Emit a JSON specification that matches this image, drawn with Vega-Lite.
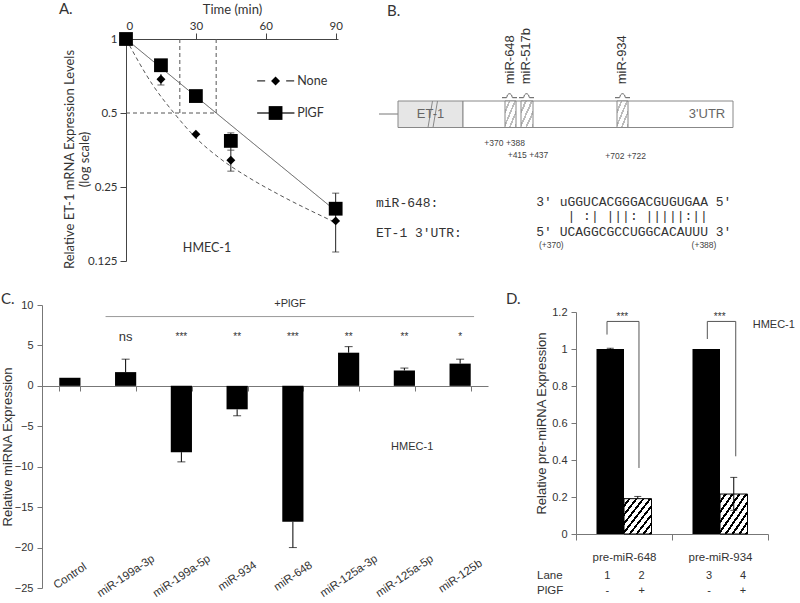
{
  "$schema": "https://vega.github.io/schema/vega-lite/v6.json",
  "padding": {"left": 1, "top": 2, "right": 0, "bottom": 0},
  "config": {"view": {"stroke": null}, "font": "Liberation Sans", "axis": {"grid": false, "titleFontWeight": "normal", "labelColor": "#333", "titleColor": "#333", "domainColor": "#666", "tickColor": "#666"}},
  "spacing": 22,
  "vconcat": [
    {
      "bounds": "flush",
      "spacing": 20,
      "hconcat": [
        {"width": 64, "height": 222, "data": {"values": [{"a": 0, "b": 1}]}, "mark": {"type": "rect", "opacity": 0},
         "encoding": {"x": {"field": "a", "type": "quantitative", "scale": {"domain": [0, 1]}, "axis": null}, "x2": {"field": "b"}, "y": {"field": "a", "type": "quantitative", "scale": {"domain": [0, 1]}, "axis": null}, "y2": {"field": "b"}}},
        {
          "width": 212, "height": 222,
          "layer": [
            {
              "data": {"values": [{"t": 0, "t2": 38.7, "v": 0.5, "v2": 0.5}, {"t": 23.1, "t2": 23.1, "v": 1, "v2": 0.5}, {"t": 38.7, "t2": 38.7, "v": 1, "v2": 0.5}]},
              "mark": {"type": "rule", "strokeDash": [4, 3], "color": "#555", "strokeWidth": 1},
              "encoding": {
                "x": {"field": "t", "type": "quantitative", "scale": {"domain": [0, 91], "nice": false, "zero": false},
                  "axis": {"orient": "top", "values": [0, 15, 30, 45, 60, 75, 90], "title": "Time (min)", "labelFont": "Lato", "titleFont": "Lato", "labelFontSize": 11.5, "titleFontSize": 13, "tickSize": 6, "labelPadding": 2, "titlePadding": 4, "domainColor": "#444", "tickColor": "#444"}},
                "x2": {"field": "t2"},
                "y": {"field": "v", "type": "quantitative", "scale": {"type": "log", "base": 2, "domain": [0.125, 1], "nice": false},
                  "axis": {"values": [0.125, 0.25, 0.5, 1], "format": "~g", "labelOverlap": false, "title": ["Relative ET-1 mRNA Expression Levels", "(log scale)"], "labelFont": "Lato", "titleFont": "Lato", "labelFontSize": 11.5, "titleFontSize": 13, "titleLineHeight": 15, "titleBaseline": "middle", "titleX": -57, "titleY": 120, "tickSize": 6, "labelPadding": 3, "domainColor": "#444", "tickColor": "#444"}},
                "y2": {"field": "v2"}
              }
            },
            {
              "data": {"values": [
                {"s": "None", "t": 0, "v": 1}, {"s": "None", "t": 11.3, "v": 0.654}, {"s": "None", "t": 20.6, "v": 0.5}, {"s": "None", "t": 29.9, "v": 0.397}, {"s": "None", "t": 39.9, "v": 0.329}, {"s": "None", "t": 52.7, "v": 0.273}, {"s": "None", "t": 65.6, "v": 0.233}, {"s": "None", "t": 88.4, "v": 0.182}, {"s": "None", "t": 90, "v": 0.179},
                {"s": "PlGF", "t": 0, "v": 1}, {"s": "PlGF", "t": 38.7, "v": 0.5}, {"s": "PlGF", "t": 90, "v": 0.2}
              ]},
              "mark": {"type": "line", "color": "#555", "strokeWidth": 1, "interpolate": "monotone"},
              "encoding": {
                "x": {"field": "t", "type": "quantitative", "scale": {"domain": [0, 91], "nice": false, "zero": false}},
                "y": {"field": "v", "type": "quantitative", "scale": {"type": "log", "base": 2, "domain": [0.125, 1], "nice": false}},
                "strokeDash": {"field": "s", "type": "nominal", "scale": {"domain": ["None", "PlGF"], "range": [[4, 3], [1, 0]]}, "legend": null}
              }
            },
            {
              "data": {"values": [
                {"t": 15, "v": 0.65, "v2": 0.72}, {"t": 45, "v": 0.29, "v2": 0.353}, {"t": 90, "v": 0.136, "v2": 0.2},
                {"t": 45, "v": 0.353, "v2": 0.415}, {"t": 90, "v": 0.204, "v2": 0.236}
              ]},
              "mark": {"type": "rule", "color": "#222", "strokeWidth": 1},
              "encoding": {
                "x": {"field": "t", "type": "quantitative", "scale": {"domain": [0, 91], "nice": false, "zero": false}},
                "y": {"field": "v", "type": "quantitative", "scale": {"type": "log", "base": 2, "domain": [0.125, 1], "nice": false}},
                "y2": {"field": "v2"}
              }
            },
            {
              "data": {"values": [{"t": 15, "v": 0.65}, {"t": 45, "v": 0.29}, {"t": 45, "v": 0.353}, {"t": 90, "v": 0.136}, {"t": 45, "v": 0.415}, {"t": 90, "v": 0.236}]},
              "mark": {"type": "tick", "color": "#222", "orient": "horizontal", "size": 7, "thickness": 1},
              "encoding": {
                "x": {"field": "t", "type": "quantitative", "scale": {"domain": [0, 91], "nice": false, "zero": false}},
                "y": {"field": "v", "type": "quantitative", "scale": {"type": "log", "base": 2, "domain": [0.125, 1], "nice": false}}
              }
            },
            {
              "data": {"values": [{"t": 56.3, "v": 0.675}, {"t": 72.3, "v": 0.675}]},
              "mark": {"type": "line", "color": "#333", "strokeWidth": 1.3, "strokeDash": [8, 21]},
              "encoding": {
                "x": {"field": "t", "type": "quantitative", "scale": {"domain": [0, 91], "nice": false, "zero": false}},
                "y": {"field": "v", "type": "quantitative", "scale": {"type": "log", "base": 2, "domain": [0.125, 1], "nice": false}}
              }
            },
            {
              "data": {"values": [{"t": 56.3, "v": 0.5}, {"t": 72.3, "v": 0.5}]},
              "mark": {"type": "line", "color": "#333", "strokeWidth": 1.3},
              "encoding": {
                "x": {"field": "t", "type": "quantitative", "scale": {"domain": [0, 91], "nice": false, "zero": false}},
                "y": {"field": "v", "type": "quantitative", "scale": {"type": "log", "base": 2, "domain": [0.125, 1], "nice": false}}
              }
            },
            {
              "data": {"values": [
                {"s": "None", "t": 0, "v": 1}, {"s": "None", "t": 15, "v": 0.686}, {"s": "None", "t": 30, "v": 0.41}, {"s": "None", "t": 45, "v": 0.321}, {"s": "None", "t": 90, "v": 0.182},
                {"s": "PlGF", "t": 0, "v": 1}, {"s": "PlGF", "t": 15, "v": 0.782}, {"s": "PlGF", "t": 30, "v": 0.586}, {"s": "PlGF", "t": 45, "v": 0.385}, {"s": "PlGF", "t": 90, "v": 0.204},
                {"s": "None", "t": 64.2, "v": 0.675}, {"s": "PlGF", "t": 64.2, "v": 0.5}
              ]},
              "mark": {"type": "point", "filled": true, "color": "black", "opacity": 1},
              "encoding": {
                "x": {"field": "t", "type": "quantitative", "scale": {"domain": [0, 91], "nice": false, "zero": false}},
                "y": {"field": "v", "type": "quantitative", "scale": {"type": "log", "base": 2, "domain": [0.125, 1], "nice": false}},
                "shape": {"field": "s", "type": "nominal", "scale": {"domain": ["None", "PlGF"], "range": ["diamond", "square"]}, "legend": null},
                "size": {"field": "s", "type": "nominal", "scale": {"domain": ["None", "PlGF"], "range": [80, 190]}, "legend": null}
              }
            },
            {
              "data": {"values": [{"t": 73.5, "v": 0.675, "label": "None"}, {"t": 73.5, "v": 0.5, "label": "PlGF"}, {"t": 24.4, "v": 0.1417, "label": "HMEC-1"}]},
              "mark": {"type": "text", "font": "Lato", "fontSize": 12.5, "color": "#333", "align": "left", "baseline": "middle"},
              "encoding": {
                "x": {"field": "t", "type": "quantitative", "scale": {"domain": [0, 91], "nice": false, "zero": false}},
                "y": {"field": "v", "type": "quantitative", "scale": {"type": "log", "base": 2, "domain": [0.125, 1], "nice": false}},
                "text": {"field": "label"},
                "align": {"condition": {"test": "datum.label === 'HMEC-1'", "value": "center"}, "value": "left"}
              }
            },
            {
              "data": {"values": [{"t": -28.8, "v": 1.324, "label": "A."}]},
              "mark": {"type": "text", "font": "Lato", "fontSize": 15, "color": "#333", "align": "left", "baseline": "middle"},
              "encoding": {
                "x": {"field": "t", "type": "quantitative", "scale": {"domain": [0, 91], "nice": false, "zero": false}},
                "y": {"field": "v", "type": "quantitative", "scale": {"type": "log", "base": 2, "domain": [0.125, 1], "nice": false}},
                "text": {"field": "label"}
              }
            }
          ]
        },
        {
          "width": 381, "height": 222,
          "encoding": {
            "x": {"field": "u", "type": "quantitative", "scale": {"domain": [0, 381], "nice": false, "zero": false}, "axis": null},
            "y": {"field": "w", "type": "quantitative", "scale": {"domain": [0, 222], "nice": false, "zero": false}, "axis": null}
          },
          "layer": [
            {
              "data": {"values": [{"u": 21, "u2": 40, "w": 147, "w2": 147}]},
              "mark": {"type": "rule", "color": "#777", "strokeWidth": 1},
              "encoding": {"x2": {"field": "u2"}, "y2": {"field": "w2"}}
            },
            {
              "data": {"values": [{"u": 40, "u2": 105, "w": 133.5, "w2": 160}]},
              "mark": {"type": "rect", "fill": "#e6e6e6", "stroke": "#888", "strokeWidth": 1},
              "encoding": {"x2": {"field": "u2"}, "y2": {"field": "w2"}}
            },
            {
              "data": {"values": [{"u": 105, "u2": 375, "w": 133.5, "w2": 160}]},
              "mark": {"type": "rect", "fill": "white", "stroke": "#888", "strokeWidth": 1},
              "encoding": {"x2": {"field": "u2"}, "y2": {"field": "w2"}}
            },
            {
              "data": {"values": [{"u": 147, "u2": 158, "w": 133.5, "w2": 160}, {"u": 163, "u2": 175, "w": 133.5, "w2": 160}, {"u": 259, "u2": 270, "w": 133.5, "w2": 160}]},
              "mark": {"type": "rect", "stroke": "#888", "strokeWidth": 1,
                "fill": {"gradient": "linear", "x1": 0, "y1": 0, "x2": 1, "y2": 1, "stops": [
                  {"offset": 0, "color": "white"}, {"offset": 0.17, "color": "white"}, {"offset": 0.17, "color": "#bbb"}, {"offset": 0.25, "color": "#bbb"},
                  {"offset": 0.25, "color": "white"}, {"offset": 0.42, "color": "white"}, {"offset": 0.42, "color": "#bbb"}, {"offset": 0.5, "color": "#bbb"},
                  {"offset": 0.5, "color": "white"}, {"offset": 0.67, "color": "white"}, {"offset": 0.67, "color": "#bbb"}, {"offset": 0.75, "color": "#bbb"},
                  {"offset": 0.75, "color": "white"}, {"offset": 0.92, "color": "white"}, {"offset": 0.92, "color": "#bbb"}, {"offset": 1, "color": "#bbb"}]}},
              "encoding": {"x2": {"field": "u2"}, "y2": {"field": "w2"}}
            },
            {
              "data": {"values": [{"u": 70, "u2": 74.5, "w": 133.5, "w2": 160}, {"u": 75, "u2": 79.5, "w": 133.5, "w2": 160}]},
              "mark": {"type": "rule", "color": "#888", "strokeWidth": 1},
              "encoding": {"x2": {"field": "u2"}, "y2": {"field": "w2"}}
            },
            {
              "data": {"values": [
                {"site": "a", "u": 144, "w": 163.3}, {"site": "a", "u": 148.5, "w": 163.3}, {"site": "a", "u": 149.5, "w": 166}, {"site": "a", "u": 151.5, "w": 167.3}, {"site": "a", "u": 153.5, "w": 166}, {"site": "a", "u": 154.5, "w": 163.3}, {"site": "a", "u": 159, "w": 163.3},
                {"site": "b", "u": 161, "w": 163.3}, {"site": "b", "u": 165.5, "w": 163.3}, {"site": "b", "u": 166.5, "w": 166}, {"site": "b", "u": 168.5, "w": 167.3}, {"site": "b", "u": 170.5, "w": 166}, {"site": "b", "u": 171.5, "w": 163.3}, {"site": "b", "u": 176, "w": 163.3},
                {"site": "c", "u": 257, "w": 163.3}, {"site": "c", "u": 261.5, "w": 163.3}, {"site": "c", "u": 262.5, "w": 166}, {"site": "c", "u": 264.5, "w": 167.3}, {"site": "c", "u": 266.5, "w": 166}, {"site": "c", "u": 267.5, "w": 163.3}, {"site": "c", "u": 272, "w": 163.3}
              ]},
              "mark": {"type": "line", "color": "#555", "strokeWidth": 1, "interpolate": "monotone"},
              "encoding": {"detail": {"field": "site", "type": "nominal"}}
            },
            {
              "data": {"values": [{"u": 151.7, "w": 176.7, "label": "miR-648"}, {"u": 167.7, "w": 176.7, "label": "miR-517b"}, {"u": 264.3, "w": 176.7, "label": "miR-934"}]},
              "mark": {"type": "text", "angle": 270, "align": "left", "baseline": "middle", "fontSize": 13, "color": "#333"},
              "encoding": {"text": {"field": "label"}}
            },
            {
              "data": {"values": [{"u": 72.5, "w": 147, "label": "ET-1"}, {"u": 349, "w": 147, "label": "3'UTR"}]},
              "mark": {"type": "text", "align": "center", "baseline": "middle", "fontSize": 13, "color": "#666"},
              "encoding": {"text": {"field": "label"}}
            },
            {
              "data": {"values": [{"u": 146.7, "w": 118.3, "label": "+370 +388"}, {"u": 170, "w": 106, "label": "+415 +437"}, {"u": 267.7, "w": 105, "label": "+702 +722"}, {"u": 193.3, "w": 16, "label": "(+370)"}, {"u": 346, "w": 16, "label": "(+388)"}]},
              "mark": {"type": "text", "align": "center", "baseline": "middle", "fontSize": 8.5, "color": "#444"},
              "encoding": {"text": {"field": "label"}}
            },
            {
              "data": {"values": [{"u": 18, "w": 58.3, "label": "miR-648:"}, {"u": 18, "w": 28.3, "label": "ET-1 3'UTR:"}, {"u": 178.3, "w": 59.3, "label": "3' uGGUCACGGGACGUGUGAA 5'"}, {"u": 178.3, "w": 29, "label": "5' UCAGGCGCCUGGCACAUUU 3'"}, {"u": 209.5, "w": 45, "label": "| :| |||: |||||:||"}]},
              "mark": {"type": "text", "align": "left", "baseline": "middle", "font": "Liberation Mono", "fontSize": 13, "color": "#333"},
              "encoding": {"text": {"field": "label"}}
            },
            {
              "data": {"values": [{"u": 29, "w": 250, "label": "B."}]},
              "mark": {"type": "text", "align": "left", "baseline": "middle", "font": "Lato", "fontSize": 15, "color": "#333"},
              "encoding": {"text": {"field": "label"}}
            }
          ]
        }
      ]
    },
    {
      "bounds": "flush",
      "spacing": 88,
      "hconcat": [
        {
          "width": 446, "height": 283,
          "resolve": {"scale": {"x": "independent"}},
          "layer": [
            {
              "encoding": {
                "x": {"field": "m", "type": "nominal", "scale": {"domain": ["Control", "miR-199a-3p", "miR-199a-5p", "miR-934", "miR-648", "miR-125a-3p", "miR-125a-5p", "miR-125b"], "paddingInner": 0.62, "paddingOuter": 0.31},
                  "axis": {"title": null, "offset": -202, "tickBand": "extent", "labelAngle": -34, "labelAlign": "center", "labelBaseline": "middle", "labelPadding": 185, "labelOverlap": false, "tickSize": 5, "labelFontSize": 11.5, "domainColor": "#777", "tickColor": "#777"}},
                "y": {"field": "v", "type": "quantitative", "scale": {"domain": [-25, 10], "nice": false, "zero": false},
                  "axis": {"values": [-25, -20, -15, -10, -5, 0, 5, 10], "labelOverlap": false, "title": "Relative miRNA Expression", "titleFontSize": 13, "titleBaseline": "middle", "titleX": -35, "labelFontSize": 11, "tickSize": 5, "labelPadding": 4, "domainColor": "#777", "tickColor": "#777"}}
              },
              "layer": [
                {
                  "data": {"values": [{"m": "Control", "v": 1}, {"m": "miR-199a-3p", "v": 1.7}, {"m": "miR-199a-5p", "v": -8.2}, {"m": "miR-934", "v": -2.9}, {"m": "miR-648", "v": -16.8}, {"m": "miR-125a-3p", "v": 4.1}, {"m": "miR-125a-5p", "v": 1.9}, {"m": "miR-125b", "v": 2.75}]},
                  "mark": {"type": "bar", "color": "black"}
                },
                {
                  "data": {"values": [{"m": "miR-199a-3p", "v": 1.7, "e": 3.3}, {"m": "miR-199a-5p", "v": -8.2, "e": -9.4}, {"m": "miR-934", "v": -2.9, "e": -3.7}, {"m": "miR-648", "v": -16.8, "e": -20.0}, {"m": "miR-125a-3p", "v": 4.1, "e": 4.85}, {"m": "miR-125a-5p", "v": 1.9, "e": 2.2}, {"m": "miR-125b", "v": 2.75, "e": 3.3}]},
                  "layer": [
                    {"mark": {"type": "rule", "color": "black"}, "encoding": {"y2": {"field": "e"}}},
                    {"mark": {"type": "tick", "color": "black", "orient": "horizontal", "size": 8, "thickness": 1}, "encoding": {"y": {"field": "e", "type": "quantitative", "scale": {"domain": [-25, 10], "nice": false, "zero": false}}}}
                  ]
                },
                {
                  "data": {"values": [{"m": "miR-199a-3p", "v": 6.1, "s": "ns"}, {"m": "miR-199a-5p", "v": 6.0, "s": "***"}, {"m": "miR-934", "v": 6.0, "s": "**"}, {"m": "miR-648", "v": 6.0, "s": "***"}, {"m": "miR-125a-3p", "v": 6.0, "s": "**"}, {"m": "miR-125a-5p", "v": 6.0, "s": "**"}, {"m": "miR-125b", "v": 6.0, "s": "*"}]},
                  "mark": {"type": "text", "align": "center", "baseline": "middle", "color": "#333"},
                  "encoding": {"text": {"field": "s"}, "size": {"condition": {"test": "datum.s === 'ns'", "value": 13}, "value": 10}}
                }
              ]
            },
            {
              "encoding": {
                "x": {"field": "p", "type": "quantitative", "scale": {"domain": [0, 8], "nice": false, "zero": false}, "axis": null},
                "y": {"field": "y", "type": "quantitative", "scale": {"domain": [-25, 10], "nice": false, "zero": false},
                  "axis": {"values": [-25, -20, -15, -10, -5, 0, 5, 10], "labelOverlap": false, "title": "Relative miRNA Expression", "titleFontSize": 13, "titleBaseline": "middle", "titleX": -35, "labelFontSize": 11, "tickSize": 5, "labelPadding": 4, "domainColor": "#777", "tickColor": "#777"}}
              },
              "layer": [
                {
                  "data": {"values": [{"p": 1.14, "p2": 7.75, "y": 8.57}]},
                  "mark": {"type": "rule", "color": "#999", "strokeWidth": 1},
                  "encoding": {"x2": {"field": "p2"}}
                },
                {
                  "data": {"values": [{"p": 4.45, "y": 10.14, "label": "+PlGF"}, {"p": 6.64, "y": -7.5, "label": "HMEC-1"}]},
                  "mark": {"type": "text", "align": "center", "baseline": "middle", "fontSize": 11, "color": "#333"},
                  "encoding": {"text": {"field": "label"}}
                },
                {
                  "data": {"values": [{"p": -0.735, "y": 10.76, "label": "C."}]},
                  "mark": {"type": "text", "align": "left", "baseline": "middle", "font": "Lato", "fontSize": 15, "color": "#333"},
                  "encoding": {"text": {"field": "label"}}
                }
              ]
            }
          ]
        },
        {
          "bounds": "flush",
          "spacing": 0,
          "vconcat": [
            {"width": 192, "height": 7, "data": {"values": [{"a": 0, "b": 1}]}, "mark": {"type": "rect", "opacity": 0},
             "encoding": {"x": {"field": "a", "type": "quantitative", "scale": {"domain": [0, 1]}, "axis": null}, "x2": {"field": "b"}, "y": {"field": "a", "type": "quantitative", "scale": {"domain": [0, 1]}, "axis": null}, "y2": {"field": "b"}}},
            {
              "width": 192, "height": 222,
              "resolve": {"scale": {"x": "independent"}},
              "layer": [
                {
                  "encoding": {
                    "x": {"field": "g", "type": "nominal", "scale": {"domain": ["pre-miR-648", "pre-miR-934"], "paddingInner": 0, "paddingOuter": 0},
                      "axis": {"title": null, "tickBand": "extent", "labelAngle": 0, "labelAlign": "center", "labelBaseline": "middle", "labelPadding": 17, "tickSize": 6, "labelFontSize": 11.5, "domainColor": "#777", "tickColor": "#777"}},
                    "xOffset": {"field": "c", "type": "nominal", "scale": {"domain": ["ctrl", "plgf"], "paddingInner": 0, "paddingOuter": 0.745}},
                    "y": {"field": "v", "type": "quantitative", "scale": {"domain": [0, 1.2], "nice": false, "zero": false},
                      "axis": {"values": [0, 0.2, 0.4, 0.6, 0.8, 1, 1.2], "format": "~g", "labelOverlap": false, "title": "Relative pre-miRNA Expression", "titleFontSize": 13, "titleBaseline": "middle", "titleX": -35, "labelFontSize": 11, "tickSize": 5, "labelPadding": 4, "domainColor": "#777", "tickColor": "#777"}}
                  },
                  "layer": [
                    {
                      "data": {"values": [{"g": "pre-miR-648", "c": "ctrl", "v": 1.0}, {"g": "pre-miR-934", "c": "ctrl", "v": 1.0}]},
                      "mark": {"type": "bar", "color": "black"}
                    },
                    {
                      "data": {"values": [{"g": "pre-miR-648", "c": "plgf", "v": 0.191}, {"g": "pre-miR-934", "c": "plgf", "v": 0.216}]},
                      "mark": {"type": "bar", "stroke": "black", "strokeWidth": 1,
                        "fill": {"gradient": "linear", "x1": 0, "y1": 0, "x2": 1, "y2": 1, "stops": [
                          {"offset": 0, "color": "white"}, {"offset": 0.081, "color": "white"}, {"offset": 0.081, "color": "black"}, {"offset": 0.125, "color": "black"},
                          {"offset": 0.125, "color": "white"}, {"offset": 0.206, "color": "white"}, {"offset": 0.206, "color": "black"}, {"offset": 0.25, "color": "black"},
                          {"offset": 0.25, "color": "white"}, {"offset": 0.331, "color": "white"}, {"offset": 0.331, "color": "black"}, {"offset": 0.375, "color": "black"},
                          {"offset": 0.375, "color": "white"}, {"offset": 0.456, "color": "white"}, {"offset": 0.456, "color": "black"}, {"offset": 0.5, "color": "black"},
                          {"offset": 0.5, "color": "white"}, {"offset": 0.581, "color": "white"}, {"offset": 0.581, "color": "black"}, {"offset": 0.625, "color": "black"},
                          {"offset": 0.625, "color": "white"}, {"offset": 0.706, "color": "white"}, {"offset": 0.706, "color": "black"}, {"offset": 0.75, "color": "black"},
                          {"offset": 0.75, "color": "white"}, {"offset": 0.831, "color": "white"}, {"offset": 0.831, "color": "black"}, {"offset": 0.875, "color": "black"},
                          {"offset": 0.875, "color": "white"}, {"offset": 0.956, "color": "white"}, {"offset": 0.956, "color": "black"}, {"offset": 1, "color": "black"}]}}
                    },
                    {
                      "data": {"values": [{"g": "pre-miR-648", "c": "ctrl", "v": 1.0, "hi": 1.004}, {"g": "pre-miR-648", "c": "plgf", "v": 0.191, "hi": 0.203}, {"g": "pre-miR-934", "c": "plgf", "v": 0.128, "hi": 0.306}]},
                      "mark": {"type": "rule", "color": "black"},
                      "encoding": {"y2": {"field": "hi"}}
                    },
                    {
                      "data": {"values": [{"g": "pre-miR-648", "c": "ctrl", "v": 1.004}, {"g": "pre-miR-648", "c": "plgf", "v": 0.203}, {"g": "pre-miR-934", "c": "plgf", "v": 0.306}, {"g": "pre-miR-934", "c": "plgf", "v": 0.128}]},
                      "mark": {"type": "tick", "color": "black", "orient": "horizontal", "size": 7, "thickness": 1}
                    }
                  ]
                },
                {
                  "encoding": {
                    "x": {"field": "p", "type": "quantitative", "scale": {"domain": [0, 2], "nice": false, "zero": false}, "axis": null},
                    "y": {"field": "y", "type": "quantitative", "scale": {"domain": [0, 1.2], "nice": false, "zero": false},
                      "axis": {"values": [0, 0.2, 0.4, 0.6, 0.8, 1, 1.2], "format": "~g", "labelOverlap": false, "title": "Relative pre-miRNA Expression", "titleFontSize": 13, "titleBaseline": "middle", "titleX": -35, "labelFontSize": 11, "tickSize": 5, "labelPadding": 4, "domainColor": "#777", "tickColor": "#777"}}
                  },
                  "layer": [
                    {
                      "data": {"values": [{"p": 0.323, "p2": 0.323, "y": 1.078, "y2": 1.149}, {"p": 0.323, "p2": 0.656, "y": 1.149, "y2": 1.149}, {"p": 0.656, "p2": 0.656, "y": 1.149, "y2": 0.357}, {"p": 1.368, "p2": 1.368, "y": 1.054, "y2": 1.149}, {"p": 1.368, "p2": 1.664, "y": 1.149, "y2": 1.149}, {"p": 1.664, "p2": 1.664, "y": 1.149, "y2": 0.42}]},
                      "mark": {"type": "rule", "color": "#555", "strokeWidth": 1},
                      "encoding": {"x2": {"field": "p2"}, "y2": {"field": "y2"}}
                    },
                    {
                      "data": {"values": [{"p": 0.483, "y": 1.174, "label": "***"}, {"p": 1.497, "y": 1.174, "label": "***"}]},
                      "mark": {"type": "text", "align": "center", "baseline": "middle", "fontSize": 10, "color": "#333"},
                      "encoding": {"text": {"field": "label"}}
                    },
                    {
                      "data": {"values": [{"p": 2.06, "y": 1.131, "label": "HMEC-1"}, {"p": 0.326, "y": -0.229, "label": "1"}, {"p": 0.684, "y": -0.229, "label": "2"}, {"p": 1.385, "y": -0.229, "label": "3"}, {"p": 1.74, "y": -0.229, "label": "4"}, {"p": 0.326, "y": -0.31, "label": "-"}, {"p": 0.684, "y": -0.31, "label": "+"}, {"p": 1.385, "y": -0.31, "label": "-"}, {"p": 1.74, "y": -0.31, "label": "+"}]},
                      "mark": {"type": "text", "align": "center", "baseline": "middle", "fontSize": 11, "color": "#333"},
                      "encoding": {"text": {"field": "label"}}
                    },
                    {
                      "data": {"values": [{"p": -0.406, "y": -0.229, "label": "Lane"}, {"p": -0.406, "y": -0.31, "label": "PlGF"}]},
                      "mark": {"type": "text", "align": "left", "baseline": "middle", "fontSize": 11.5, "color": "#333"},
                      "encoding": {"text": {"field": "label"}}
                    },
                    {
                      "data": {"values": [{"p": -0.73, "y": 1.272, "label": "D."}]},
                      "mark": {"type": "text", "align": "left", "baseline": "middle", "font": "Lato", "fontSize": 15, "color": "#333"},
                      "encoding": {"text": {"field": "label"}}
                    }
                  ]
                }
              ]
            }
          ]
        }
      ]
    }
  ]
}
